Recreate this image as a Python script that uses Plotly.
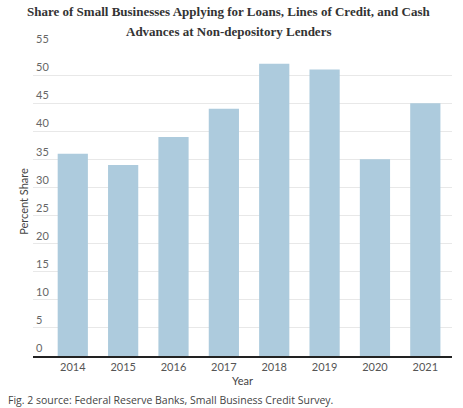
import plotly.graph_objects as go

years = ["2014", "2015", "2016", "2017", "2018", "2019", "2020", "2021"]
share = [36, 34, 39, 44, 52, 51, 35, 45]
y_ticks = [0, 5, 10, 15, 20, 25, 30, 35, 40, 45, 50, 55]

title_lines = ["Share of Small Businesses Applying for Loans, Lines of Credit, and Cash",
               "Advances at Non-depository Lenders"]
caption = "Fig. 2 source: Federal Reserve Banks, Small Business Credit Survey."

sans = "Lato, 'Open Sans', sans-serif"
serif_font = dict(family="'Liberation Serif', serif", size=13, color="#333333", weight=600)

fig = go.Figure(go.Bar(
    x=years, y=share,
    marker=dict(color="#adcbdd", line=dict(width=0)),
    width=0.6,
    hoverinfo="skip",
))

annotations = []
for i, line in enumerate(title_lines):
    annotations.append(dict(text=line, xref="paper", yref="paper", x=(228 - 33) / 419, y=1,
                            xanchor="center", yanchor="middle", yshift=36 - 20 * i,
                            showarrow=False, font=serif_font))
annotations.append(dict(text=caption, xref="paper", yref="paper", x=-27 / 419, y=0,
                        xanchor="left", yanchor="top", yshift=-35, showarrow=False,
                        font=dict(family="'Open Sans', sans-serif", size=10.5, color="#444444")))

fig.update_layout(
    width=463, height=408,
    margin=dict(l=33, r=11, t=47, b=52),
    paper_bgcolor="white", plot_bgcolor="white",
    showlegend=False,
    annotations=annotations,
)

fig.update_xaxes(
    type="category", range=[-0.79, 7.53], automargin=False,
    showgrid=False, showline=True, linecolor="#222222", linewidth=1.5,
    ticks="", tickfont=dict(family=sans, size=11, color="#555555"),
    title=dict(text="Year", font=dict(family=sans, size=11, color="#444444"), standoff=5),
)
fig.update_yaxes(
    range=[0, 55], tickvals=y_ticks, automargin=False,
    showgrid=True, gridcolor="#e8e8e8", gridwidth=1,
    zeroline=False, showline=False,
    ticklabelposition="inside top", ticklabeloverflow="allow",
    tickfont=dict(family=sans, size=11, color="#666666"),
    title=dict(text="Percent Share", font=dict(family=sans, size=11, color="#444444"), standoff=5),
)

fig.write_html("out.html", config={"displayModeBar": False},
               post_script="document.body.style.margin='0px';")
